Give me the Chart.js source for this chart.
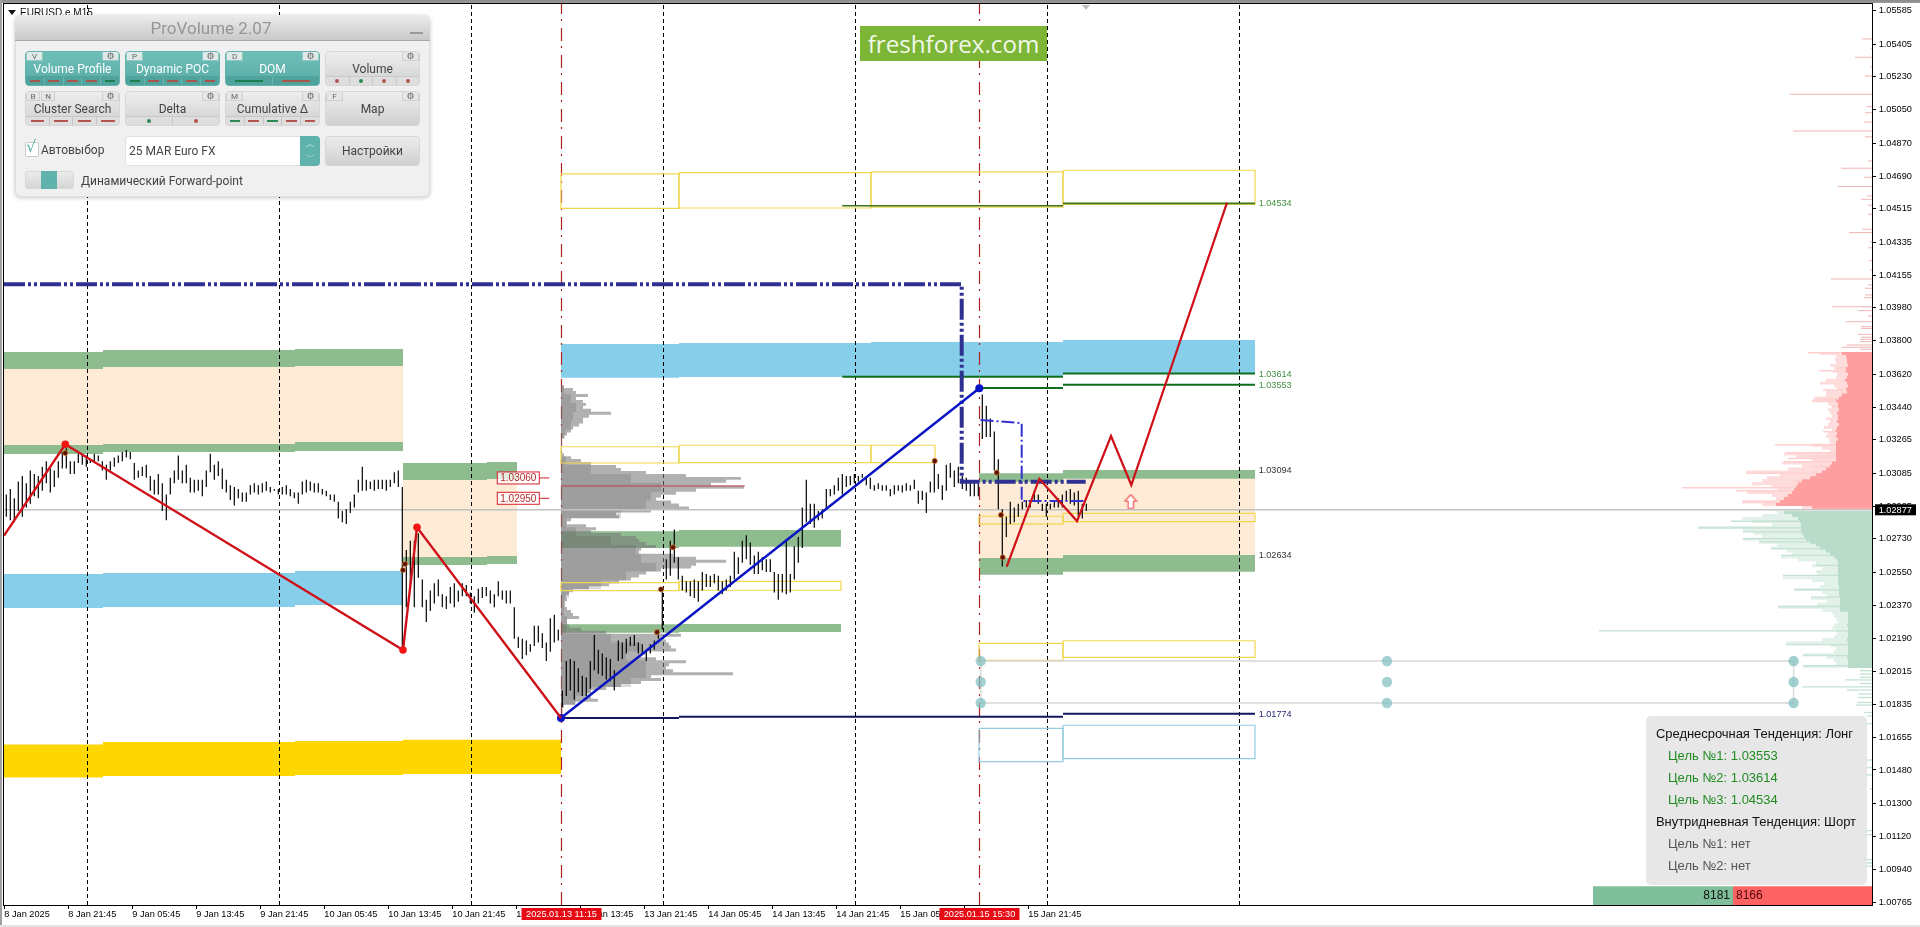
<!DOCTYPE html>
<html><head><meta charset="utf-8"><title>EURUSD ProVolume</title>
<script src="https://cdn.jsdelivr.net/npm/chart.js@4/dist/chart.umd.js"></script>
<style>
html,body{margin:0;padding:0;width:1920px;height:927px;overflow:hidden;background:#fff;font-family:"Liberation Sans",Arial,sans-serif}
canvas{position:absolute;left:0;top:0}
.abs,.abs *{box-sizing:border-box}
.abs{position:absolute}
#chromeTop{left:0;top:0;width:1920px;height:3px;background:linear-gradient(#8a8a8a,#9c9c9c)}
#chromeLeft{left:0;top:0;width:2px;height:927px;background:#a0a0a0}
#chromeBottom{left:0;top:925px;width:1920px;height:2px;background:#e4e4e4}
#sym{left:20px;top:7px;font:10px/12px "Liberation Sans";color:#111;white-space:nowrap}
#symTri{left:8px;top:10px;width:0;height:0;border-left:4px solid transparent;border-right:4px solid transparent;border-top:5px solid #111}
#handle{left:1082px;top:5px;width:0;height:0;border-left:4px solid transparent;border-right:4px solid transparent;border-top:5px solid #bdbdbd}
#badge{left:860px;top:26px;width:187px;height:35px;background:#7db536;color:#f2f8e8;font:24.2px/35px "Open Sans";text-align:center}
#pv{left:15px;top:15px;width:415px;height:182px;background:#f0f0f0;border:1px solid #dedede;border-radius:6px;box-shadow:0 1px 4px rgba(0,0,0,.22)}
#pvHead{left:15px;top:15px;width:415px;height:26px;padding-right:23px;border-radius:6px 6px 0 0;background:linear-gradient(#ececec,#c9c9c9);border-bottom:1px solid #a8a8a8;color:#969696;font:17px/27px Roboto;text-align:center}
#pvMin{left:410px;top:32px;width:13px;height:2px;background:#9a9a9a}
.btn{width:95px;height:35.5px;border-radius:4px;background:linear-gradient(#eeeeee,#d0d0d0);border:1px solid #d6d6d6;color:#444;font:12px Roboto;text-align:center;overflow:hidden}
.btn.on{background:linear-gradient(#6fbfb9,#58aca5);border-color:#62b4ad;color:#fff}
.btn .lbl{position:absolute;left:0;right:0;top:9.5px;line-height:16px}
.btn.big .lbl{top:9.5px}
.tab{position:absolute;top:0;height:9px;background:#e6e6e6;border:1px solid #cfcfcf;border-top:0;color:#666;font:8px/9px Roboto;text-align:center}
.on .tab{background:#dfe9e8;border-color:#8fc9c4}
.strip{position:absolute;left:0;right:0;bottom:0;height:9px;background:#dedede;display:flex;border-top:1px solid #c8c8c8}
.on .strip{background:#4fa39c;border-top-color:#4fa39c}
.seg{flex:1;border-right:1px solid #c6c6c6;display:flex;align-items:center;justify-content:center}
.on .seg{border-right-color:#62b4ad}
.seg:last-child{border-right:0}
.dash{width:60%;height:1.5px}
.dot{width:4px;height:4px;border-radius:50%}
.t12{font:12px/16px Roboto;color:#444;white-space:nowrap}
#trend{left:1646px;top:716px;width:221px;height:169px;background:rgba(230,230,230,.94);border-radius:5px}
.tl{position:absolute;font:13px/16px "Liberation Sans";white-space:nowrap}
</style></head><body>
<canvas id="c" width="1920" height="927"></canvas>
<script>
/* ---------- axes ---------- */
const timeLabels = ["8 Jan 2025","8 Jan 21:45","9 Jan 05:45","9 Jan 13:45","9 Jan 21:45","10 Jan 05:45","10 Jan 13:45","10 Jan 21:45","13 Jan 05:45","13 Jan 13:45","13 Jan 21:45","14 Jan 05:45","14 Jan 13:45","14 Jan 21:45","15 Jan 05:45","15 Jan 13:45","15 Jan 21:45"];
const barsPerTimeLabel = 32;
const priceLabels = ["1.05585","1.05405","1.05230","1.05050","1.04870","1.04690","1.04515","1.04335","1.04155","1.03980","1.03800","1.03620","1.03440","1.03265","1.03085","1.02905","1.02730","1.02550","1.02370","1.02190","1.02015","1.01835","1.01655","1.01480","1.01300","1.01120","1.00940","1.00765"];
const priceTickShift = 0.0001; // the terminal prints its scale about 2px below the true price
const xMin = -0.15, xMax = 933.85, yMin = 1.0074, yMax = 1.05612;
const lastPrice = 1.02877;

/* ---------- price bars, one column every second M15 bar ---------- */
const barStep = 2, firstBar = 1;
const highs = [1.0296,1.0299,1.0294,1.0303,1.0306,1.0302,1.0309,1.0307,1.0306,1.0311,1.0314,1.0310,1.0309,1.0314,1.0319,1.0321,1.0314,1.0314,1.0318,1.0318,1.0317,1.0315,1.0318,1.0317,1.0314,1.0312,1.0314,1.0316,1.0317,1.0319,1.0320,1.0319,1.0313,1.0309,1.0311,1.0312,1.0306,1.0304,1.0307,1.0302,1.0296,1.0305,1.0309,1.0317,1.0309,1.0312,1.0305,1.0304,1.0304,1.0304,1.0309,1.0318,1.0312,1.0314,1.0310,1.0304,1.0301,1.0300,1.0299,1.0297,1.0297,1.0301,1.0302,1.0301,1.0302,1.0303,1.0300,1.0299,1.0299,1.0300,1.0301,1.0299,1.0297,1.0297,1.0303,1.0304,1.0303,1.0302,1.0302,1.0299,1.0298,1.0296,1.0296,1.0292,1.0287,1.0288,1.0292,1.0296,1.0304,1.0311,1.0304,1.0303,1.0304,1.0304,1.0304,1.0304,1.0304,1.0308,1.0309,
1.0300,1.0266,1.0271,1.0271,1.0275,1.0250,1.0239,1.0244,1.0248,1.0250,1.0242,1.0241,1.0246,1.0248,1.0244,1.0248,1.0247,1.0243,1.0241,1.0245,1.0246,1.0246,1.0244,1.0242,1.0249,1.0244,1.0244,1.0244,1.0235,1.0219,1.0218,1.0217,1.0215,1.0225,1.0225,1.0221,1.0216,1.0229,1.0231,1.0223,
1.0190,1.0206,1.0207,1.0206,1.0202,1.0198,1.0197,1.0206,1.0220,1.0212,1.0210,1.0208,1.0207,1.0201,1.0217,1.0216,1.0218,1.0219,1.0220,1.0216,1.0215,1.0212,1.0215,1.0217,1.0223,1.0246,1.0261,1.0271,1.0277,1.0262,1.0252,1.0249,1.0249,1.0250,1.0249,1.0254,1.0253,1.0252,1.0253,1.0252,1.0249,1.0250,1.0252,1.0265,1.0262,1.0271,1.0274,1.0270,1.0263,1.0265,1.0262,1.0261,1.0261,1.0254,1.0253,1.0253,1.0271,1.0253,1.0268,1.0273,1.0289,1.0304,1.0291,1.0291,1.0287,1.0288,1.0299,1.0299,1.0301,1.0305,1.0307,1.0306,1.0306,1.0307,1.0306,1.0307,1.0306,1.0305,1.0301,1.0302,1.0301,1.0301,1.0299,1.0301,1.0301,1.0301,1.0302,1.0301,1.0304,1.0298,1.0298,1.0297,1.0303,1.0315,1.0307,1.0301,1.0312,1.0313,1.0309,1.0311,1.0306,1.0305,1.0303,1.0302,
1.0302,1.0350,1.0344,1.0337,1.0330,1.0315,1.0288,1.0284,1.0292,1.0289,1.0291,1.0292,1.0293,1.0293,1.0298,1.0296,1.0291,1.0291,1.0291,1.0293,1.0294,1.0296,1.0298,1.0299,1.0297,1.0298,1.0291,1.0291];
const lows = [1.0284,1.0282,1.0281,1.0287,1.0284,1.0289,1.0291,1.0295,1.0294,1.0298,1.0302,1.0297,1.0300,1.0305,1.0310,1.0310,1.0307,1.0307,1.0313,1.0312,1.0311,1.0313,1.0313,1.0314,1.0309,1.0304,1.0309,1.0311,1.0313,1.0314,1.0316,1.0315,1.0304,1.0305,1.0306,1.0305,1.0298,1.0296,1.0296,1.0287,1.0282,1.0296,1.0302,1.0304,1.0302,1.0302,1.0297,1.0297,1.0298,1.0295,1.0300,1.0308,1.0304,1.0306,1.0299,1.0297,1.0293,1.0290,1.0294,1.0292,1.0292,1.0296,1.0297,1.0296,1.0297,1.0298,1.0297,1.0298,1.0296,1.0296,1.0296,1.0295,1.0294,1.0291,1.0296,1.0297,1.0298,1.0297,1.0297,1.0296,1.0295,1.0293,1.0292,1.0283,1.0281,1.0280,1.0286,1.0289,1.0297,1.0298,1.0298,1.0299,1.0298,1.0299,1.0299,1.0298,1.0300,1.0302,1.0300,
1.0213,1.0235,1.0246,1.0235,1.0251,1.0235,1.0227,1.0233,1.0237,1.0241,1.0235,1.0234,1.0237,1.0235,1.0238,1.0241,1.0241,1.0237,1.0232,1.0237,1.0240,1.0241,1.0237,1.0235,1.0241,1.0239,1.0237,1.0237,1.0218,1.0213,1.0207,1.0209,1.0211,1.0214,1.0216,1.0213,1.0206,1.0211,1.0216,1.0217,
1.0181,1.0187,1.0190,1.0185,1.0189,1.0187,1.0187,1.0191,1.0201,1.0199,1.0198,1.0196,1.0195,1.0190,1.0206,1.0207,1.0210,1.0214,1.0214,1.0210,1.0209,1.0206,1.0210,1.0212,1.0218,1.0223,1.0250,1.0252,1.0259,1.0250,1.0244,1.0243,1.0241,1.0240,1.0238,1.0244,1.0246,1.0246,1.0248,1.0244,1.0242,1.0244,1.0246,1.0250,1.0253,1.0259,1.0261,1.0258,1.0253,1.0253,1.0255,1.0254,1.0254,1.0243,1.0239,1.0243,1.0242,1.0243,1.0250,1.0259,1.0267,1.0281,1.0280,1.0278,1.0282,1.0283,1.0288,1.0295,1.0296,1.0298,1.0296,1.0300,1.0301,1.0302,1.0303,1.0305,1.0301,1.0299,1.0298,1.0299,1.0298,1.0298,1.0295,1.0296,1.0298,1.0297,1.0298,1.0298,1.0299,1.0291,1.0293,1.0286,1.0297,1.0297,1.0299,1.0293,1.0298,1.0305,1.0300,1.0302,1.0299,1.0298,1.0295,1.0295,
1.0295,1.0326,1.0327,1.0327,1.0309,1.0288,1.0257,1.0273,1.0280,1.0281,1.0284,1.0288,1.0289,1.0289,1.0292,1.0291,1.0287,1.0284,1.0288,1.0289,1.0289,1.0289,1.0292,1.0291,1.0290,1.0284,1.0283,1.0287];
const pivotBars = [30.5,200.35,199.35,326.35,328.35,334.35,465.2,496.2,498.35,499.2];
const pivotPrices = [1.03184,1.02584,1.02551,1.02215,1.02447,1.02674,1.03141,1.03078,1.02849,1.02620];

/* ---------- zones: [from bar, to bar, high, low] ---------- */
const goldZones = [[xMin,49.35,1.01608,1.01429],[49.35,145.35,1.01621,1.01438],[145.35,199.35,1.01627,1.01443],[199.35,278.35,1.01634,1.01448]];
const skyZones = [[xMin,49.35,1.02530,1.02346],[49.35,145.35,1.02535,1.02351],[145.35,199.35,1.02546,1.02362],[278.35,337.35,1.03774,1.03591],[337.35,433.35,1.03779,1.03595],[433.35,529.35,1.03784,1.03600],[529.35,625.35,1.03795,1.03611]];
const creamZones = [[xMin,49.35,1.03638,1.03227],[49.35,145.35,1.03649,1.03233],[145.35,199.35,1.03655,1.03244],[199.35,241.35,1.03038,1.02622],[241.35,256.35,1.03044,1.02627],[487.35,529.35,1.03027,1.02616],[529.35,625.35,1.03045,1.02633]];
const greenZones = [[xMin,49.35,1.03730,1.03638],[49.35,145.35,1.03741,1.03649],[145.35,199.35,1.03747,1.03655],[xMin,49.35,1.03227,1.03179],[49.35,145.35,1.03233,1.03190],[145.35,199.35,1.03244,1.03195],[199.35,241.35,1.03130,1.03038],[241.35,256.35,1.03135,1.03044],[199.35,241.35,1.02622,1.02578],[241.35,256.35,1.02627,1.02584],[278.35,337.35,1.02761,1.02670],[337.35,418.35,1.02768,1.02677],[278.35,337.35,1.02258,1.02212],[337.35,418.35,1.02259,1.02216],[487.35,529.35,1.03074,1.03027],[529.35,625.35,1.03092,1.03045],[487.35,529.35,1.02616,1.02526],[529.35,625.35,1.02633,1.02542]];
const yellowBoxes = [[278.35,337.35,1.04693,1.04507],[337.35,433.35,1.04700,1.04509],[433.35,529.35,1.04704,1.04514],[529.35,625.35,1.04713,1.04529],[278.35,337.35,1.03218,1.03130],[337.35,433.35,1.03226,1.03132],[433.35,465.35,1.03226,1.03132],[278.35,337.35,1.02483,1.02440],[337.35,418.35,1.02490,1.02442],[487.35,529.35,1.02842,1.02799],[529.35,625.35,1.02858,1.02813],[487.35,529.35,1.02155,1.02063],[529.35,625.35,1.02169,1.02079]];
const paleBoxes = [[487.35,529.35,1.01695,1.01515],[529.35,625.35,1.01712,1.01532]];
const deltaBuyZone = [794.35,864.35,1.00841,yMin];
const deltaSellZone = [864.35,xMax,1.00841,yMin];
const deltaBuy = "8181", deltaSell = "8166";

/* ---------- vertical lines ---------- */
const dayBars = [41.6,137.6,233.6,329.6,425.6,521.6,617.6];
const sessionBars = [278.6,487.6];
const sessionLabels = ["2025.01.13 11:15","2025.01.15 15:30"];

/* ---------- levels: [from bar, to bar, price] ---------- */
const greenLevels = [[419,529.35,1.03597],[529.35,625.35,1.03614],[487.35,529.35,1.03536],[529.35,625.35,1.03553]];
const oliveLevels = [[419,529.35,1.04521],[529.35,625.35,1.04534]];
const navyLevels = [[278.35,337.35,1.01751],[337.35,529.35,1.01758],[529.35,625.35,1.01774]];
const pocLevel = [278.35,370.3,1.03006];
const levelLabelBar = 627.2;
const levelLabelText = ["1.04534","1.03614","1.03553","1.03094","1.02634","1.01774"];
const levelLabelColor = ["#3f8f3f","#3f8f3f","#3f8f3f","#333333","#333333","#26267a"];
const alertPrices = [1.0306,1.0295];
const alertBar = 257;

/* ---------- trend paths ---------- */
const waveDownBars = [xMin,30.5,199.35,206.35,278.35];
const waveDownPrices = [1.02737,1.03231,1.02119,1.02782,1.01751];
const waveUpBars = [278.35,487.5];
const waveUpPrices = [1.01751,1.03534];
const forecastBars = [501.2,517.5,536.35,553.35,563.5,611.35];
const forecastPrices = [1.02569,1.03045,1.02816,1.03276,1.03011,1.04538];
const thickBars = [xMin,478.7,478.7,540.7];
const thickPrices = [1.04096,1.04096,1.03029,1.03029];
const thinBars = [488.1,508.7,508.7,540.7];
const thinPrices = [1.03363,1.03346,1.02925,1.02925];
const arrowBar = 563.2, arrowPrice = 1.02921;
const anchorBars = [488.2,691.35,894.65];
const anchorPrices = [1.02059,1.01946,1.01832];

/* ---------- volume profiles (widths in screen-scale volume units) ---------- */
const volumeToBars = 0.5;
const profileStep = 0.00016, coreStep = 0.00048;
const grayProfileTop = 1.03551, grayProfileBar = 278.35;
const grayProfile = [3,12,15,27,15,22,25,22,30,50,28,22,22,18,12,10,6,3,1,1,1,1,1,3,10,20,30,55,60,85,125,180,165,150,183,135,115,100,95,110,118,128,90,55,58,10,6,25,35,30,60,75,78,85,95,80,78,112,135,165,135,130,100,85,78,70,58,48,28,12,8,5,6,4,4,6,10,12,18,6,6,8,20,45,120,100,105,108,110,115,85,80,95,125,108,105,112,172,90,100,80,60,45,30,25,30,37,14,3];
const grayCore = [3,10,15,12,10,4,0,0,5,30,70,100,90,85,60,5,15,50,75,80,95,65,40,8,3,3,6,5,50,80,65,85,85,70,30,15,2];
const redSolidTop = 1.0373;
const redSolid = [30,26,25,25,24,26,26,24,25,27,25,24,26,25,30,33,36,34,34,33,35,34,34,35,33,35,36,35,36,34,36,36,36,36,36,36,36,40,42,46,50,56,62,70,74,76,78,80,84,88,92,96,60];
const redHalo = [52,36,37,36,42,36,39,35,36,46,52,38,35,46,46,58,60,44,40,44,42,40,46,42,44,48,40,44,46,43,42,60,50,42,88,76,60,90,70,84,126,92,105,110,120,100,95,125,100,96,130,110,70];
const redSparsePrices = [1.05423,1.05373,1.05324,1.05273,1.05223,1.05124,1.05057,1.05024,1.04974,1.04925,1.04894,1.04763,1.04724,1.04675,1.04625,1.04574,1.04556,1.04524,1.04475,1.04394,1.04376,1.04325,1.04294,1.04224,1.04174,1.04125,1.04093,1.04075,1.04039,1.04024,1.03975,1.03954,1.03925,1.03894,1.03867,1.03858,1.03826,1.03810,1.03799,1.03786,1.03768,1.03756,1.03745];
const redSparse = [10,1,17,2,7,82,5,7,8,79,7,4,31,8,34,5,11,4,4,10,23,2,4,3,2,41,4,7,7,8,40,14,4,26,11,11,14,11,12,12,25,30,12];
const redSpikePrices = [1.03726,1.03644,1.03629,1.03525,1.03476,1.03464,1.03435,1.03299,1.03227,1.03186,1.03168,1.03155,1.03137,1.03110,1.03074,1.03060,1.03034,1.02996,1.02980,1.02966,1.02947,1.02916,1.02903];
const redSpikes = [64,38,53,49,55,59,41,49,97,86,62,84,88,60,126,60,78,190,136,80,85,130,96];
const greenSolidTop = 1.0287;
const greenSolid = [88,80,74,72,71,71,71,70,68,66,62,56,52,46,42,38,35,34,34,34,34,34,34,34,34,33,33,33,33,32,32,32,32,32,24,24,24,24,25,24,24,24,24,25,24,24,24,24,24,25,24,24,24];
const greenHalo = [95,110,130,120,100,174,129,118,110,129,113,95,101,85,80,91,74,56,60,50,56,54,89,60,48,52,78,50,45,61,45,55,94,50,40,38,36,34,38,40,36,35,38,50,86,42,36,38,69,45,38,36,69];
const greenSpikePrices = [1.02815,1.02779,1.02758,1.02721,1.02703,1.02667,1.02631,1.02576,1.02522,1.02444,1.02405,1.02354,1.02222,1.02148,1.02088,1.02034,1.02007,1.01989,1.01971,1.01957,1.01938,1.01920,1.01902,1.01881,1.01862,1.01835,1.01821,1.01781,1.01762,1.01721,1.01524,1.01483,1.01444,1.01369,1.01142,1.01120,1.00985,1.00967,1.00950];
const greenSpikes = [141,174,129,129,113,101,91,56,89,78,61,94,273,86,69,69,12,12,12,27,12,70,25,14,14,15,16,8,5,40,5,5,8,2,12,42,38,140,20];

/* ---------- builders ---------- */
const zip = (xs,ys)=>xs.map((x,i)=>({x,y:ys[i]}));
const sets = [];
const add = d => { sets.push(Object.assign({order:5000-sets.length},d)); };
const line = (data,color,width,dash,extra) => add(Object.assign({type:'line',data,borderColor:color,borderWidth:width,borderDash:dash||[],pointRadius:0,fill:false,tension:0,borderCapStyle:'butt',borderJoinStyle:'miter'},extra||{}));
const zone = (z,color) => add({type:'line',data:[{x:z[0],y:z[2]},{x:z[1],y:z[2]},{x:z[1],y:z[3]},{x:z[0],y:z[3]}],fill:'shape',backgroundColor:color,borderWidth:0,pointRadius:0,tension:0});
const box = (z,color,w) => line([{x:z[0],y:z[2]},{x:z[1],y:z[2]},{x:z[1],y:z[3]},{x:z[0],y:z[3]},{x:z[0],y:z[2]}],color,w||1.2);
const hbars = (prices,widths,anchor,dir,color,thick) => add({type:'bar',indexAxis:'y',grouped:false,inflateAmount:0,borderWidth:0,backgroundColor:color,barThickness:thick,
  data:widths.map((w,i)=>({y:prices[i],x:dir>0?[anchor,anchor+w*volumeToBars]:[anchor-w*volumeToBars,anchor]}))});
/* a histogram silhouette: one closed stepped outline through the volume of every price row */
const profile = (top,step,widths,anchor,dir,color) => {
  const pts=[];
  widths.forEach((w,i)=>{const x=anchor+dir*w*volumeToBars,p=top-i*step;pts.push({x,y:p},{x,y:p-step});});
  pts.push({x:anchor,y:top-widths.length*step},{x:anchor,y:top});
  add({type:'line',data:pts,fill:'shape',backgroundColor:color,borderWidth:0,pointRadius:0,tension:0});
};

goldZones.forEach(z=>zone(z,'#ffd700'));
skyZones.forEach(z=>zone(z,'#87ceeb'));
creamZones.forEach(z=>zone(z,'#fdebd5'));
greenZones.forEach(z=>zone(z,'#8fbc8f'));
dayBars.forEach(b=>line([{x:b,y:yMin},{x:b,y:yMax}],'#000',1,[4,3]));
sessionBars.forEach(b=>line([{x:b,y:yMin},{x:b,y:yMax}],'#b22222',1.2,[13,7,2,5]));
profile(grayProfileTop,profileStep,grayProfile,grayProfileBar,1,'rgba(120,120,120,.58)');
profile(grayProfileTop,coreStep,grayCore,grayProfileBar,1,'rgba(90,90,90,.22)');
line([{x:pocLevel[0],y:pocLevel[2]},{x:pocLevel[1],y:pocLevel[2]}],'#c83c3c',1);
yellowBoxes.forEach(z=>box(z,'#efd84f'));
paleBoxes.forEach(z=>box(z,'#93cbdf'));
line([{x:xMin,y:lastPrice},{x:xMax,y:lastPrice}],'#c2c2c2',1.4);
[anchorPrices[0],anchorPrices[2]].forEach(p=>line([{x:anchorBars[0],y:p},{x:anchorBars[2],y:p}],'#d6d6d6',1.4));
[anchorBars[0],anchorBars[2]].forEach(b=>line([{x:b,y:anchorPrices[0]},{x:b,y:anchorPrices[2]}],'#dcdcdc',1.6));
greenLevels.forEach(l=>line([{x:l[0],y:l[2]},{x:l[1],y:l[2]}],'#0f6e1e',2));
oliveLevels.forEach(l=>line([{x:l[0],y:l[2]},{x:l[1],y:l[2]}],'#3e741a',1.6));
navyLevels.forEach(l=>line([{x:l[0],y:l[2]},{x:l[1],y:l[2]}],'#15155e',2));
hbars(redSparsePrices,redSparse,xMax,-1,'#efb4b4',1);
profile(redSolidTop,profileStep,redHalo,xMax,-1,'#ffdcdc');
hbars(redSpikePrices,redSpikes,xMax,-1,'#ffcfcf',1.5);
profile(redSolidTop,profileStep,redSolid,xMax,-1,'#ff9e9e');
profile(greenSolidTop,profileStep,greenHalo,xMax,-1,'#e2f1e9');
hbars(greenSpikePrices,greenSpikes,xMax,-1,'#c3e2d2',1.3);
profile(greenSolidTop,profileStep,greenSolid,xMax,-1,'#b8dcc9');
zone(deltaBuyZone,'#7fbf9b'); zone(deltaSellZone,'#ff6262');
add({type:'bar',grouped:false,inflateAmount:0,borderWidth:0,backgroundColor:'#000',barThickness:1.2,
  data:highs.map((h,i)=>({x:firstBar+i*barStep,y:[lows[i],h]}))});
line(zip(thinBars,thinPrices),'#3232d2',2,[13,3,2,3]);
line(zip(thickBars,thickPrices),'#2e3192',4,[21,3,3,3,3,3]);
line(zip(waveUpBars,waveUpPrices),'#0a14c4',2.4,[],{pointRadius:4,pointBackgroundColor:'#0a14c4',pointBorderWidth:0});
line(zip(waveDownBars,waveDownPrices),'#cf1018',2.4,[]);
line(zip(forecastBars,forecastPrices),'#cf1018',2.2,[]);
line(zip(waveDownBars.slice(1,4),waveDownPrices.slice(1,4)),'transparent',0,[],{showLine:false,pointRadius:3.8,pointBackgroundColor:'#f01414',pointBorderWidth:0});
line(zip(pivotBars,pivotPrices),'transparent',0,[],{showLine:false,pointRadius:2.6,pointBackgroundColor:'#5a1208',pointBorderColor:'#f09030',pointBorderWidth:.6});
const arrowCv = document.createElement('canvas'); arrowCv.width=14; arrowCv.height=16;
(()=>{const c=arrowCv.getContext('2d');c.strokeStyle='#ee5a5a';c.fillStyle='#fff';c.lineWidth=1.2;c.beginPath();
 c.moveTo(7,1);c.lineTo(13,7.5);c.lineTo(9.7,7.5);c.lineTo(9.7,14.5);c.lineTo(4.3,14.5);c.lineTo(4.3,7.5);c.lineTo(1,7.5);c.closePath();c.fill();c.stroke();})();
line([{x:arrowBar,y:arrowPrice}],'transparent',0,[],{showLine:false,pointStyle:arrowCv,pointRadius:8});
anchorBars.forEach(b=>line(anchorPrices.map(p=>({x:b,y:p})),'transparent',0,[],{showLine:false,pointRadius:5.2,pointBackgroundColor:'rgba(128,190,190,.72)',pointBorderWidth:0}));

const overlay = {id:'overlay',afterDraw(ch){
  const {ctx,chartArea:a,scales:{x,y}}=ch; ctx.save();
  ctx.strokeStyle='#000';ctx.lineWidth=1;ctx.strokeRect(Math.round(a.left)-.5,Math.round(a.top)-.5,a.right-a.left+1,a.bottom-a.top+1);
  ctx.textBaseline='middle';ctx.textAlign='left';ctx.font='9.1px "Liberation Sans"';
  levelLabelText.forEach((t,i)=>{ctx.fillStyle=levelLabelColor[i];ctx.fillText(t,x.getPixelForValue(levelLabelBar),y.getPixelForValue(+t)+.5);});
  alertPrices.forEach(p=>{const py=y.getPixelForValue(p)+2,px=x.getPixelForValue(alertBar);
    ctx.fillStyle='rgba(255,255,255,.75)';ctx.fillRect(px-21,py-6,42,12);
    ctx.strokeStyle='#d8202c';ctx.lineWidth=1;ctx.strokeRect(px-21,py-6,42,12);
    ctx.beginPath();ctx.moveTo(px+21,py);ctx.lineTo(px+31,py);ctx.stroke();
    ctx.fillStyle='#b42a2a';ctx.textAlign='center';ctx.font='10px "Liberation Sans"';ctx.fillText(p.toFixed(5),px,py+.5);});
  ctx.textAlign='center';ctx.font='9.2px "Liberation Sans"';
  sessionBars.forEach((b,i)=>{const px=x.getPixelForValue(b);ctx.fillStyle='#e60a14';ctx.fillRect(px-40,a.bottom+3,80,12);
    ctx.fillStyle='#fff';ctx.fillText(sessionLabels[i],px,a.bottom+9.5);});
  const ly=y.getPixelForValue(lastPrice);ctx.fillStyle='#000';ctx.fillRect(a.right+3,ly-5.5,41,11);
  ctx.fillStyle='#fff';ctx.textAlign='left';ctx.fillText(lastPrice.toFixed(5),a.right+6.7,ly+.5);
  const split=x.getPixelForValue(deltaBuyZone[1]),dy=(a.bottom+y.getPixelForValue(deltaBuyZone[2]))/2;
  ctx.font='12px "Liberation Sans"';ctx.fillStyle='#111';ctx.textAlign='right';ctx.fillText(deltaBuy,split-3,dy+.5);
  ctx.textAlign='left';ctx.fillStyle='#4a0a0a';ctx.fillText(deltaSell,split+3,dy+.5);
  ctx.restore();}};

Chart.defaults.font.family='"Liberation Sans"';
new Chart(document.getElementById('c'),{type:'bar',data:{datasets:sets},plugins:[overlay],options:{
  responsive:false,animation:false,devicePixelRatio:1,
  layout:{autoPadding:false,padding:{left:4,top:4,right:0,bottom:0}},
  plugins:{legend:{display:false},tooltip:{enabled:false}},events:[],
  scales:{
    x:{type:'linear',min:xMin,max:xMax,offset:false,position:'bottom',
      grid:{offset:false,drawOnChartArea:false,drawTicks:true,tickLength:4,tickColor:'#000'},border:{color:'#000',width:1},
      afterBuildTicks:s=>{s.ticks=timeLabels.map((_,i)=>({value:i*barsPerTimeLabel}));},
      afterFit:s=>{s.height=22;s.paddingLeft=0;s.paddingRight=0;},
      ticks:{autoSkip:false,maxRotation:0,minRotation:0,align:'start',padding:0,color:'#000',font:{size:9.2},callback:(v,i)=>timeLabels[i]}},
    y:{type:'linear',min:yMin,max:yMax,offset:false,position:'right',
      grid:{offset:false,drawOnChartArea:false,drawTicks:true,tickLength:4,tickColor:'#000'},border:{color:'#000',width:1},
      afterBuildTicks:s=>{s.ticks=priceLabels.map(t=>({value:+t-priceTickShift}));},
      afterFit:s=>{s.width=48;s.paddingTop=0;s.paddingBottom=0;},
      ticks:{autoSkip:false,padding:2.7,color:'#000',font:{size:9.2},callback:(v,i)=>priceLabels[i]}}
  }}});

/* ---------- terminal widgets ---------- */
const el=(cls,id,css,txt,parent)=>{const d=document.createElement('div');d.className=cls;if(id)d.id=id;if(css)d.style.cssText=css;if(txt!=null)d.textContent=txt;(parent||document.body).appendChild(d);return d;};
el('abs','chromeTop');el('abs','chromeLeft');el('abs','chromeBottom');
el('abs','symTri');el('abs','sym',null,'EURUSD,e.M15');el('abs','handle');
el('abs','badge',null,'freshforex.com');
el('abs','pv');el('abs','pvHead',null,'ProVolume 2.07');el('abs','pvMin');
const G='#2f8a55',R='#b5554f';
const buttons=[
 ['Volume Profile',25,50.7,1,['V'],[1,1,1,1,0],'dash'],
 ['Dynamic POC',125,50.7,1,['P'],[0,1,1,1,1],'dash'],
 ['DOM',225,50.7,1,['D'],[0,1],'dash'],
 ['Volume',325,50.7,0,[],[1,0,1,1],'dot'],
 ['Cluster Search',25,90.7,0,['B','N'],[1,1,1,1],'dash'],
 ['Delta',125,90.7,0,[],[0,1],'dot'],
 ['Cumulative Δ',225,90.7,0,['M'],[0,1,0,1,1],'dash'],
 ['Map',325,90.7,0,['F'],[],'']];
buttons.forEach(([t,l,tp,on,keys,strip,kind])=>{
  const b=el('abs btn'+(on?' on':'')+(strip.length?'':' big'),null,`left:${l}px;top:${tp}px`);
  el('lbl',null,null,t,b);
  keys.forEach((k,i)=>el('tab',null,`left:${i*15}px;width:${keys.length>1?14:17}px`,k,b));
  el('tab',null,'right:0;width:17px;font:9px/9px "DejaVu Sans"','⚙',b);
  if(strip.length){const s=el('strip',null,null,null,b);strip.forEach(r=>{const g=el('seg',null,null,null,s);
    el(kind,null,`background:${on&&kind==='dash'?(r?'#a8534c':'#1f7d52'):(r?R:G)}`,null,g);});}
});
el('abs',null,'left:24.5px;top:142px;width:14px;height:15px;background:#fff;border:1px solid #ccc;border-radius:2px');
el('abs',null,'left:26px;top:137px;font:16px/20px "DejaVu Sans";color:#58b0a9','√');
el('abs t12',null,'left:41px;top:142px','Автовыбор');
el('abs',null,'left:125px;top:136px;width:195px;height:30px;background:#fff;border:1px solid #e0e0e0;border-radius:4px');
el('abs t12',null,'left:129px;top:143px','25 MAR Euro FX');
el('abs',null,'left:300px;top:136px;width:20px;height:30px;background:#5fb3ac;border-radius:0 4px 4px 0');
el('abs',null,'left:300px;top:138px;width:20px;color:#e8f5f4;font:9px/12px "DejaVu Sans";text-align:center','︿');
el('abs',null,'left:300px;top:151px;width:20px;color:#e8f5f4;font:9px/12px "DejaVu Sans";text-align:center','﹀');
el('abs',null,'left:325px;top:136px;width:95px;height:30px;background:linear-gradient(#ececec,#d0d0d0);border:1px solid #d6d6d6;border-radius:4px');
el('abs t12',null,'left:325px;top:143px;width:95px;text-align:center','Настройки');
el('abs',null,'left:24.5px;top:170.7px;width:49px;height:18.3px;background:linear-gradient(#ececec,#d4d4d4);border:1px solid #d8d8d8;border-radius:3px');
el('abs',null,'left:41px;top:170.7px;width:16px;height:18.3px;background:#5fb3ac');
el('abs t12',null,'left:81px;top:173px','Динамический Forward-point');

el('abs','trend');
const trendLines=[['Среднесрочная Тенденция: Лонг',1656,733.5,'#111'],['Цель №1: 1.03553',1668,755.5,'#228b22'],['Цель №2: 1.03614',1668,777.5,'#228b22'],['Цель №3: 1.04534',1668,799.5,'#228b22'],['Внутридневная Тенденция: Шорт',1656,821.5,'#111'],['Цель №1: нет',1668,843.5,'#555'],['Цель №2: нет',1668,865.5,'#555']];
trendLines.forEach(([t,l,c,col])=>el('tl',null,`left:${l}px;top:${c-8}px;color:${col};${t.length>20?'letter-spacing:-.05px':''}`,t));
</script></body></html>
